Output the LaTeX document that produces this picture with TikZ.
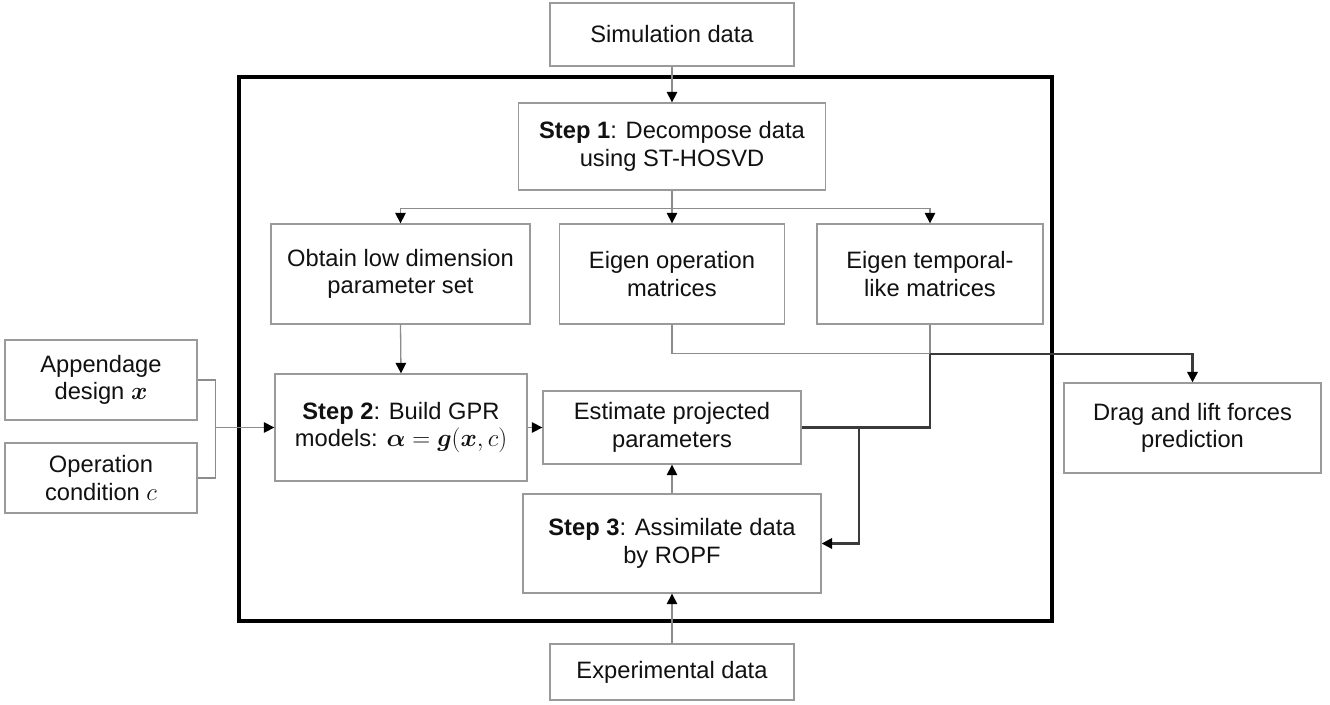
\documentclass[tikz,border=0pt]{standalone}
\usepackage{fontspec}
\usepackage{amsmath}
\usepackage{bm}
\setmainfont{Liberation Sans}
\usetikzlibrary{arrows.meta,calc}
\definecolor{boxline}{HTML}{9A9A9A}
\definecolor{thinline}{HTML}{8C8C8C}
\definecolor{darkline}{HTML}{3A3A3A}
\definecolor{txt}{HTML}{111111}
\tikzset{
  every picture/.style={x=1pt,y=-1pt},
  box/.style={draw=boxline, line width=1.3pt, fill=white, inner sep=0pt,
    align=center, text=txt, font=\fontsize{23.7}{27.7}\selectfont},
  tip/.style={-{Triangle[length=10.5pt,width=10.5pt,color=black]}},
  link/.style={draw=thinline, line width=1.3pt},
  strong/.style={draw=darkline, line width=2.2pt},
  frame/.style={draw=black, line width=4pt}
}
\begin{document}
\begin{tikzpicture}
\useasboundingbox (0,0) rectangle (1330,704);

% outer frame of the method
\draw[frame] (239,77) rectangle (1052,621);

% blocks
\node[box, minimum width=244pt, minimum height=63pt] (sim) at (672,34.5) {Simulation data};
\node[box, minimum width=307pt, minimum height=87pt] (s1) at (672,146.5) {\textbf{Step 1}: Decompose data\\using ST-HOSVD};
\node[box, minimum width=259pt, minimum height=100pt] (obt) at (400.5,274) {Obtain low dimension\\parameter set};
\node[box, minimum width=225pt, minimum height=100pt] (eop) at (672,274) {Eigen operation\\matrices};
\node[box, minimum width=226pt, minimum height=100pt] (etl) at (930,274) {Eigen temporal-\\like matrices};
\node[box, minimum width=252pt, minimum height=107pt] (s2) at (401,427.5) {\textbf{Step 2}: Build GPR\\models: $\bm{\alpha}=\bm{g}(\bm{x},c)$};
\node[box, minimum width=258pt, minimum height=73pt] (est) at (672,427.5) {Estimate projected\\parameters};
\node[box, minimum width=298pt, minimum height=99pt] (s3) at (672,543.5) {\textbf{Step 3}: Assimilate data\\by ROPF};
\node[box, minimum width=244pt, minimum height=56pt] (exp) at (672,672) {Experimental data};
\node[box, minimum width=257pt, minimum height=90pt] (drag) at (1192.5,428) {Drag and lift forces\\prediction};
\node[box, minimum width=192pt, minimum height=80pt] (app) at (101,380) {Appendage\\design $\bm{x}$};
\node[box, minimum width=192pt, minimum height=70pt] (opc) at (101,478) {Operation\\condition $c$};

% junction points
\path (s1.south) ++(0,17.5) coordinate (br);
\path (eop.south) ++(0,29) coordinate (j1);
\coordinate (j2) at (j1 -| etl.south);
\path (est.east) ++(57,0) coordinate (j3);
\path (app.east) ++(18,0) coordinate (la);
\coordinate (lb) at (la |- opc.east);
\coordinate (lm) at (la |- s2.west);

% simulation data into step 1
\draw[link, tip] (sim) -- (s1);

% step 1 branches
\draw[link] (s1.south) -- (br);
\draw[link, tip] (br) -| (obt.north);
\draw[link, tip] (br) -- (eop.north);
\draw[link, tip] (br) -| (etl.north);

% eigen matrices gathered
\draw[link] (eop.south) -- (j1) -- (j2);
\draw[link] (etl.south) -- (j2);

% inputs on the left
\draw[link] (app.east) -- (la) -- (lb) -- (opc.east);
\draw[link, tip] (lm) -- (s2.west);

% model chain
\draw[link, tip] (obt.south) -- (s2.north);
\draw[link, tip] (s2.east) -- (est.west);
\draw[link, tip] (s3.north) -- (est.south);
\draw[link, tip] (exp.north) -- (s3.south);

% prediction and feedback paths
\draw[strong] (est.east) -- (est.east -| j2) -- (j2);
\draw[strong, tip] (j2) -| (drag.north);
\draw[strong, tip] (j3) |- (s3.east);
\end{tikzpicture}
\end{document}
